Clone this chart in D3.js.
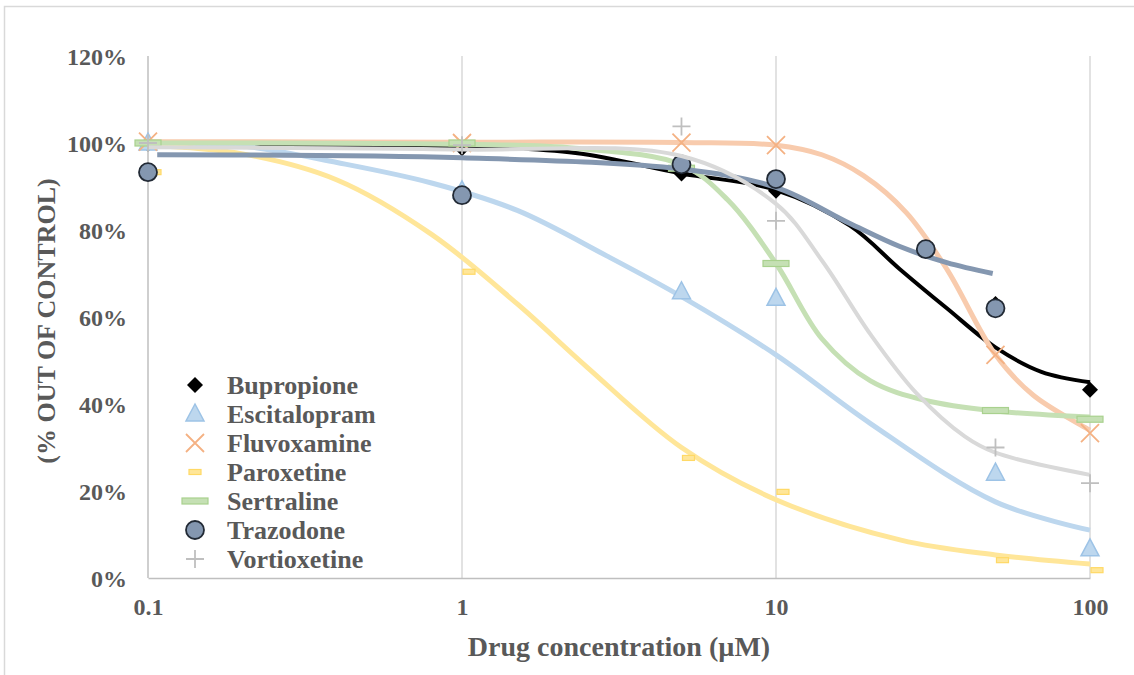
<!DOCTYPE html>
<html>
<head>
<meta charset="utf-8">
<script src="https://cdn.jsdelivr.net/npm/d3@7"></script>
<style>
  body { margin: 0; background: #fff; }
  text { font-family: "Liberation Serif", "Times New Roman", serif; font-weight: bold; fill: #595959; }
</style>
</head>
<body>
<script>
// drug names, in legend order
const drugs = ['Bupropione', 'Escitalopram', 'Fluvoxamine', 'Paroxetine', 'Sertraline', 'Trazodone', 'Vortioxetine'];

// measured points [concentration µM, % of control]
const bupropionePts   = [[0.1, 99.8], [1, 98.8], [5, 93], [10, 89], [50, 63], [100, 43.3]];
const escitalopramPts = [[0.1, 100], [1, 89], [5, 65.8], [10, 64.3], [50, 24.1], [100, 6.7]];
const fluvoxaminePts  = [[0.1, 100.3], [1, 100], [5, 100.1], [10, 99.5], [50, 51.3], [100, 33.3]];
const paroxetinePts   = [[0.1, 93.3], [1, 70.4], [5, 27.6], [10, 19.8], [50, 4.1], [100, 1.8]];
const sertralinePts   = [[0.1, 100], [1, 100], [5, 94.2], [10, 72.3], [50, 38.5], [100, 36.5]];
const trazodonePts    = [[0.1, 93.3], [1, 88], [5, 95.1], [10, 91.7], [30, 75.6], [50, 62]];
const vortioxetinePts = [[0.1, 100], [1, 99.5], [5, 103.8], [10, 82.1], [50, 30], [100, 21.8]];

// fitted curves
const bupropioneFit   = [[0.1, 99.6], [0.3, 99.5], [1, 99.2], [2.3, 97.7], [5, 93], [10, 89.2], [17.2, 81], [24.8, 71], [35, 62], [50, 53], [70, 47.4], [100, 45]];
const escitalopramFit = [[0.1, 100], [0.2, 99.3], [0.4, 95.5], [0.8, 90.8], [1.5, 84.5], [2.9, 74], [5, 64.7], [10, 51.3], [20, 35.5], [50, 17.5], [100, 11]];
const fluvoxamineFit  = [[0.1, 100.3], [1, 100.2], [5, 100.1], [10, 99.5], [14, 97.3], [19, 92.5], [26, 84], [35, 71], [50, 51.3], [66, 42], [100, 34]];
const paroxetineFit   = [[0.1, 99.5], [0.2, 97.5], [0.4, 91.5], [0.8, 79], [1.5, 63], [2.5, 48.5], [5, 30], [10, 18], [25, 8.7], [50, 5.3], [100, 3.2]];
const sertralineFit   = [[0.1, 100], [1, 99.7], [2.3, 98.8], [5, 95], [7, 87], [10, 72.3], [14, 55], [20, 45.3], [30, 40.8], [50, 38.4], [100, 37]];
const trazodoneFit    = [[0.107, 97.3], [1, 96.6], [5, 94], [10, 89.8], [17.2, 81.5], [24.8, 76.2], [35, 72.5], [49, 70]];
const vortioxetineFit = [[0.1, 99], [1, 98.5], [5, 97], [10, 86], [14, 73], [20, 56], [28, 42.5], [40, 32.5], [50, 28.8], [100, 23.7]];

const xTicks = [0.1, 1, 10, 100];
const yTicks = [0, 20, 40, 60, 80, 100, 120];

const width = 1134, height = 675;

const x = d3.scaleLog().domain([0.1, 100]).range([148, 1090]);
const y = d3.scaleLinear().domain([0, 120]).range([578, 56]);

const svg = d3.select('body').append('svg')
  .attr('width', width)
  .attr('height', height);

// chart frame
svg.append('rect')
  .attr('x', 4.5).attr('y', 6.5)
  .attr('width', 1200).attr('height', 700)
  .attr('fill', 'none')
  .attr('stroke', '#d9d9d9')
  .attr('stroke-width', 1.5);

// vertical grid
svg.append('g')
  .selectAll('line')
  .data(xTicks)
  .join('line')
  .attr('x1', d => x(d)).attr('x2', d => x(d))
  .attr('y1', y(120)).attr('y2', y(0))
  .attr('stroke', (d, i) => i === 0 ? '#bfbfbf' : '#d9d9d9')
  .attr('stroke-width', 1.5);

// x axis
svg.append('g')
  .attr('transform', `translate(0,${y(0)})`)
  .call(d3.axisBottom(x).tickValues(xTicks).tickSize(0).tickFormat(d => String(d)))
  .call(g => g.select('.domain').attr('stroke', '#bfbfbf').attr('stroke-width', 1.5))
  .call(g => g.selectAll('text')
    .attr('y', 37).attr('dy', 0)
    .style('font-size', '24px')
    .style('font-family', null).style('fill', null));

// y axis
svg.append('g')
  .attr('transform', `translate(${x(0.1)},0)`)
  .call(d3.axisLeft(y).tickValues(yTicks).tickSize(0).tickPadding(21).tickFormat(d => d + '%'))
  .call(g => g.select('.domain').remove())
  .call(g => g.selectAll('text')
    .attr('dy', '0.35em')
    .style('font-size', '24px'));

// axis titles
svg.append('text')
  .attr('x', 619).attr('y', 656)
  .attr('text-anchor', 'middle')
  .style('font-size', '28px')
  .text('Drug concentration (µM)');

svg.append('text')
  .attr('transform', `translate(55,321) rotate(-90)`)
  .attr('text-anchor', 'middle')
  .style('font-size', '26px')
  .text('(% OUT OF CONTROL)');

// series styles
const series = [
  { name: drugs[0], pts: bupropionePts,   fit: bupropioneFit,   line: '#000000', lw: 4, shape: 'diamond' },
  { name: drugs[1], pts: escitalopramPts, fit: escitalopramFit, line: '#bdd7ee', lw: 5, shape: 'triangle' },
  { name: drugs[2], pts: fluvoxaminePts,  fit: fluvoxamineFit,  line: '#f8cbad', lw: 5, shape: 'x' },
  { name: drugs[3], pts: paroxetinePts,   fit: paroxetineFit,   line: '#ffe699', lw: 5, shape: 'dash', dx: 7 },
  { name: drugs[4], pts: sertralinePts,   fit: sertralineFit,   line: '#c5e0b4', lw: 5, shape: 'bar' },
  { name: drugs[5], pts: trazodonePts,    fit: trazodoneFit,    line: '#8497b0', lw: 5, shape: 'circle' },
  { name: drugs[6], pts: vortioxetinePts, fit: vortioxetineFit, line: '#d9d9d9', lw: 4, shape: 'plus' }
];

function marker(g, shape) {
  if (shape === 'diamond') {
    g.append('path').attr('d', 'M0,-8L8,0L0,8L-8,0Z').attr('fill', '#000');
  } else if (shape === 'triangle') {
    g.append('path').attr('d', 'M0,-10L9,7L-9,7Z')
      .attr('fill', '#bdd7ee').attr('stroke', '#9dc3e6').attr('stroke-width', 1.5);
  } else if (shape === 'x') {
    g.append('path').attr('d', 'M-9,-9L9,9M-9,9L9,-9')
      .attr('stroke', '#f4b183').attr('stroke-width', 1.8).attr('fill', 'none');
  } else if (shape === 'dash') {
    g.append('rect').attr('x', -6).attr('y', -2.5).attr('width', 12).attr('height', 5)
      .attr('fill', '#ffe699').attr('stroke', '#ffd966').attr('stroke-width', 1.2);
  } else if (shape === 'bar') {
    g.append('rect').attr('x', -13).attr('y', -3).attr('width', 26).attr('height', 6)
      .attr('fill', '#c5e0b4').attr('stroke', '#a9d18e').attr('stroke-width', 1.2);
  } else if (shape === 'circle') {
    g.append('circle').attr('r', 9)
      .attr('fill', '#8497b0').attr('stroke', '#222a35').attr('stroke-width', 1.8);
  } else if (shape === 'plus') {
    g.append('path').attr('d', 'M-9,0L9,0M0,-9L0,9')
      .attr('stroke', '#bfbfbf').attr('stroke-width', 1.8).attr('fill', 'none');
  }
}

const line = d3.line()
  .x(d => x(d[0]))
  .y(d => y(d[1]))
  .curve(d3.curveCatmullRom.alpha(0.5));

const plot = svg.append('g');

series.forEach(s => {
  plot.append('path')
    .datum(s.fit)
    .attr('d', line)
    .attr('fill', 'none')
    .attr('stroke', s.line)
    .attr('stroke-width', s.lw)
    .attr('stroke-linecap', 'butt');

  plot.append('g')
    .selectAll('g')
    .data(s.pts)
    .join('g')
    .attr('transform', d => `translate(${x(d[0]) + (s.dx || 0)},${y(d[1])})`)
    .each(function () { marker(d3.select(this), s.shape); });
});

// legend
const legend = svg.append('g').attr('transform', 'translate(195,385)');
const rowH = 29;
series.forEach((s, i) => {
  const row = legend.append('g').attr('transform', `translate(0,${i * rowH})`);
  marker(row, s.shape);
  row.append('text')
    .attr('x', 32)
    .attr('dy', '0.35em')
    .style('font-size', '26px')
    .text(s.name);
});
</script>
</body>
</html>
